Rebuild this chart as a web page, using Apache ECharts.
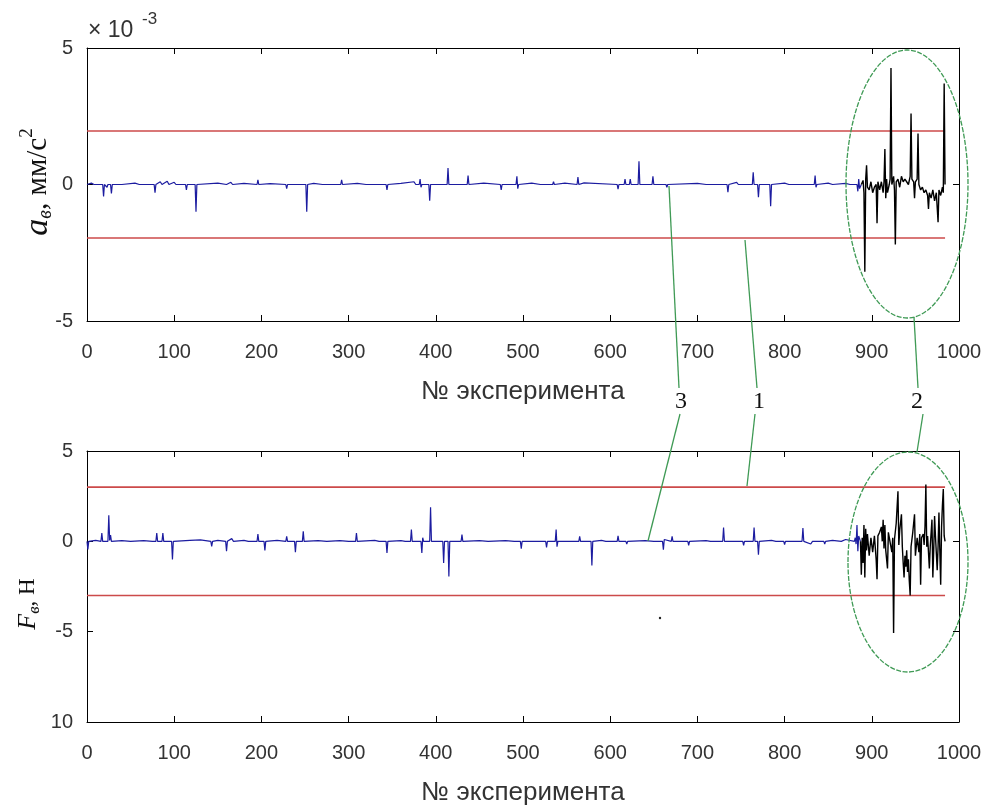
<!DOCTYPE html>
<html><head><meta charset="utf-8">
<script src="https://cdn.jsdelivr.net/npm/echarts@6/dist/echarts.min.js"></script>
<style>html,body{margin:0;padding:0;background:#fff}#c{width:994px;height:810px}</style>
</head><body><div id="c"></div>
<script>
// ---- data (top panel values in units of 1e-3 mm/s^2, bottom in N) ----
const xMin = 0, xMax = 1000, xStep = 100;
const topYTicks = [-5, 0, 5];
const bottomYTicks = [-10, -5, 0, 5];
const thresholdX = [0, 984];
const topLimits = [1.96, -1.96];
const bottomLimits = [3, -3];

const topBlue = [[0,0],[5,0.05],[8,0],[18,0],[19,-0.44],[20,0],[23,-0.1],[24,0],[27,0],[28,-0.33],[29,0],[40,0],[55,0.05],[60,0],[77,0],[78,-0.3],[79,0],[84,0.1],[86,0],[92,0.12],[94,0],[100,0.08],[102,0],[113,0],[114,-0.2],[115,0],[124,0],[125,-1.0],[126,0],[150,0.05],[160,0],[165,0.08],[167,0],[180,0.04],[195,0],[196,0.17],[197,0],[210,0.03],[228,0],[229,-0.15],[230,0],[251,0],[252,-1.0],[253,0],[260,0.04],[270,0],[291,0],[292,0.17],[293,0],[310,0.04],[320,0],[343,0],[344,-0.2],[345,0],[360,0.04],[375,0.1],[377,0],[381,0],[382,0.2],[383,-0.1],[384,0],[392,0],[393,-0.59],[394,0],[413,0],[414,0.6],[415,0],[436,0],[437,0.33],[438,0],[455,0.05],[474,0],[475,-0.2],[476,0],[492,0],[493,0.3],[494,-0.15],[495,0],[510,0.05],[520,0],[534,0],[535,0.1],[536,0],[548,0.05],[550,0],[562,0],[563,0.27],[564,0],[570,0.06],[572,0],[608,0],[609,-0.17],[610,0],[616,0],[617,0.2],[618,0],[622,0],[623,0.2],[624,0],[632,0],[633,0.85],[634,0],[648,0],[649,0.3],[650,0],[664,0],[665,-0.1],[666,0],[700,0.04],[710,0],[734,0],[735,-0.28],[736,0],[745,0.08],[747,0],[763,0],[764,0.45],[765,0],[769,0],[770,-0.47],[771,0],[783,0],[784,-0.8],[785,0],[800,0.05],[805,0],[834,0],[835,0.33],[836,-0.1],[837,0],[850,0.05],[855,0],[870,0.04],[875,0],[883,0],[884,-0.25],[885,0.2],[886,-0.15],[888,0]];
const topBlack = [[888,0],[890,0.15],[891,-0.3],[892,-3.2],[893,0.2],[894,0.7],[895,-0.1],[897,-0.2],[899,0.1],[901,-0.3],[903,-0.1],[905,0],[906,-1.42],[907,0.1],[909,-0.2],[911,0.1],[913,-0.3],[914,0.1],[915,1.3],[916,-0.5],[917,0.2],[918,-0.3],[920,0],[921,0.2],[922,4.27],[923,0],[925,0.3],[926,-0.2],[927,-2.2],[928,0.1],[930,0.2],[932,-0.1],[934,0.3],[936,0.1],[938,0.2],[940,0.15],[942,0],[944,0.3],[945,2.6],[946,0.2],[948,0.1],[949,-0.5],[950,0.1],[952,0.2],[953,1.87],[954,0],[956,-0.2],[958,-0.1],[960,-0.3],[962,-0.2],[964,-0.4],[965,-0.9],[966,-0.3],[968,-0.5],[970,-0.2],[972,-0.6],[974,-0.3],[976,-1.38],[977,-0.2],[979,-0.4],[981,-0.1],[982,-0.3],[983,3.7],[984,0]];

const bottomBlue = [[0,0],[1,-0.45],[2,0],[10,0.05],[16,0],[17,0.46],[18,0],[20,0.1],[24,0],[25,1.44],[26,0.05],[27,0.35],[28,0],[40,0.04],[50,0],[65,0.04],[75,0],[79,0],[80,0.46],[81,0],[86,0],[87,0.46],[88,0],[97,0],[98,-1.0],[99,0],[118,0.05],[120,0],[130,0.08],[132,0],[142,0],[143,-0.28],[144,0],[150,0.05],[152,0],[159,0],[160,-0.55],[161,0],[166,0.15],[168,0],[180,0.05],[185,0],[195,0],[196,0.4],[197,0],[203,0],[204,-0.5],[205,0],[218,0.05],[220,0],[228,0],[229,0.28],[230,0],[238,0],[239,-0.6],[240,0],[247,0],[248,0.55],[249,0],[265,0.04],[275,0],[290,0.04],[300,0],[308,0],[309,0.46],[310,0],[330,0.05],[335,0],[343,0],[344,-0.65],[345,0],[360,0.04],[365,0],[371,0],[372,0.65],[373,0],[383,0],[384,-0.65],[385,0.2],[386,0],[393,0],[394,1.88],[395,0],[408,0],[409,-1.2],[410,0],[414,0],[415,-1.94],[416,0],[429,0],[430,0.37],[431,0],[450,0.04],[460,0],[480,0.04],[490,0],[497,0],[498,-0.4],[499,0],[526,0],[527,-0.33],[528,0],[537,0],[538,0.65],[539,-0.3],[540,0],[564,0],[565,0.28],[566,0],[578,0],[579,-1.33],[580,0],[590,0.05],[595,0],[608,0],[609,0.3],[610,0],[618,0],[619,-0.15],[620,0],[640,0.04],[650,0],[660,0],[661,-0.46],[662,0.1],[663,0],[670,0],[671,0.28],[672,0],[689,0],[690,-0.22],[691,0],[710,0.04],[715,0],[729,0],[730,0.77],[731,0],[752,0],[753,-0.22],[754,0],[764,0],[765,0.77],[766,0],[769,0],[770,-0.74],[771,0],[785,0.05],[790,0],[799,0],[800,-0.18],[801,0],[820,0],[821,0.74],[822,0],[830,-0.15],[832,0],[845,0],[846,-0.15],[847,0],[855,0.05],[857,0],[865,0],[866,-0.1],[867,0],[870,0.1],[872,0],[880,0],[881,0.2],[882,-0.15],[883,0.9],[884,-0.55],[885,0.3],[887,0]];
const bottomBlack = [[887,0],[888,-1.85],[889,0.2],[890,-1.2],[891,0.9],[892,-2.0],[893,0.7],[894,-0.5],[895,0.4],[897,-0.8],[899,0.2],[901,-0.6],[903,0.3],[905,-1.0],[906,-2.1],[907,0.3],[909,0.5],[911,0.8],[912,0],[913,1.2],[914,-0.4],[915,0.9],[916,-0.5],[918,-1.5],[919,0.5],[921,0.4],[923,-0.6],[924,0.2],[925,-5.07],[926,0.1],[928,1.0],[930,2.77],[931,-0.2],[932,0.6],[934,1.5],[935,-0.3],[936,-1.2],[937,-2.0],[938,-0.8],[939,-1.4],[940,-0.5],[941,-1.7],[942,-1.0],[943,-2.2],[944,-3.0],[945,-0.3],[947,0.5],[949,1.5],[950,-0.8],[952,0.2],[954,-0.6],[955,0.4],[956,-2.4],[957,0.2],[959,0.4],[960,-0.2],[961,0.8],[962,3.14],[963,-0.3],[964,0.3],[966,-1.5],[967,-0.3],[969,1.2],[970,-2.0],[971,-0.5],[972,1.4],[973,0.3],[975,-1.6],[976,-0.3],[977,1.6],[978,-0.5],[979,-2.4],[980,0.8],[981,2.0],[982,2.9],[983,0.3],[984,0]];

const xTitle = '№ эксперимента';
const calloutLabels = ['3', '1', '2'];

// ---- chart ----
const chart = echarts.init(document.getElementById('c'), null, {renderer: 'canvas'});
const SANS = "'Liberation Sans', Arial, sans-serif";
const SERIF = "'Liberation Serif', 'Times New Roman', serif";
const GREEN = '#3f9a55';
const labelStyle = {color: '#333', fontFamily: SANS, fontSize: 20};

function xAxes(gi) {
  const base = {type: 'value', gridIndex: gi, min: xMin, max: xMax, interval: xStep,
    axisLine: {show: true, onZero: false, lineStyle: {color: '#000', width: 1}},
    axisTick: {show: true, inside: true, length: 6, lineStyle: {color: '#000'}},
    splitLine: {show: false}};
  return [
    Object.assign({}, base, {position: 'bottom', axisLabel: Object.assign({margin: 21, formatter: v => String(v)}, labelStyle),
      name: xTitle, nameLocation: 'middle', nameGap: 58,
      nameTextStyle: {color: '#333', fontFamily: SANS, fontSize: 26}}),
    Object.assign({}, base, {position: 'top', axisLabel: {show: false}})
  ];
}
function yAxes(gi, ticks, fmt) {
  const base = {type: 'value', gridIndex: gi, min: ticks[0], max: ticks[ticks.length - 1], interval: 5,
    axisLine: {show: true, onZero: false, lineStyle: {color: '#000', width: 1}},
    axisTick: {show: true, inside: true, length: 6, lineStyle: {color: '#000'}},
    splitLine: {show: false}};
  return [
    Object.assign({}, base, {position: 'left', axisLabel: Object.assign({margin: 14, formatter: fmt}, labelStyle)}),
    Object.assign({}, base, {position: 'right', axisLabel: {show: false}})
  ];
}

const grids = [
  {left: 87, top: 48, width: 872, height: 273},
  {left: 87, top: 451, width: 872, height: 271}
];
const xAxis = [...xAxes(0), ...xAxes(1)];
const yAxis = [...yAxes(0, topYTicks, v => String(v)), ...yAxes(1, bottomYTicks, v => v === -10 ? '10' : String(v))];

function lineSeries(xi, yi, data, color, width) {
  return {type: 'line', xAxisIndex: xi, yAxisIndex: yi, data: data, showSymbol: false, symbol: 'none',
    lineStyle: {color: color, width: width}, silent: true, animation: false, z: 3};
}
function limitSeries(xi, yi, level) {
  return lineSeries(xi, yi, thresholdX.map(x => [x, level]), '#cc4a4a', 1.6);
}
const series = [
  limitSeries(0, 0, topLimits[0]), limitSeries(0, 0, topLimits[1]),
  lineSeries(0, 0, topBlue, '#1c1ca0', 1.2),
  lineSeries(0, 0, topBlack, '#000', 1.4),
  limitSeries(2, 2, bottomLimits[0]), limitSeries(2, 2, bottomLimits[1]),
  lineSeries(2, 2, bottomBlue, '#1c1ca0', 1.2),
  lineSeries(2, 2, bottomBlack, '#000', 1.4)
];

// rotated y-axis titles built from pieces (subscripts / superscripts), centred on centerY
const mctx = document.createElement('canvas').getContext('2d');
function vlabel(parts, cx, centerY) {
  let x = 0; const children = [];
  parts.forEach(p => {
    const font = (p.italic ? 'italic ' : '') + p.size + 'px ' + SERIF;
    mctx.font = font;
    children.push({type: 'text', x: x, y: p.dy || 0,
      style: {text: p.t, font: font, fill: '#111', align: 'left', verticalAlign: 'middle',
              textAlign: 'left', textVerticalAlign: 'middle'}});
    x += mctx.measureText(p.t).width + (p.gap || 0);
  });
  return {type: 'group', x: cx, y: centerY + x / 2, rotation: Math.PI / 2, children: children};
}

const graphic = [
  vlabel([{t: 'a', italic: true, size: 34}, {t: 'в', italic: true, size: 20, dy: 8}, {t: ', мм/с', size: 29}, {t: '2', size: 19, dy: -11}], 38, 182),
  vlabel([{t: 'F', italic: true, size: 26}, {t: 'в', italic: true, size: 17, dy: 7}, {t: ', Н', size: 23}], 28, 604),
  {type: 'text', x: 88, y: 31, style: {text: '× 10', font: '23px ' + SANS, fill: '#333', align: 'left', verticalAlign: 'middle', textAlign: 'left', textVerticalAlign: 'middle'}},
  {type: 'text', x: 142, y: 19, style: {text: '-3', font: '17px ' + SANS, fill: '#333', align: 'left', verticalAlign: 'middle', textAlign: 'left', textVerticalAlign: 'middle'}},
  // callout ellipses
  {type: 'ellipse', shape: {cx: 907, cy: 184, rx: 61, ry: 134}, style: {fill: 'none', stroke: GREEN, lineWidth: 1.3, lineDash: [5, 1.5]}, z: 10},
  {type: 'ellipse', shape: {cx: 908, cy: 562, rx: 60, ry: 110}, style: {fill: 'none', stroke: GREEN, lineWidth: 1.3, lineDash: [5, 1.5]}, z: 10},
  // leader lines
  {type: 'line', shape: {x1: 669, y1: 186, x2: 679, y2: 388}, style: {stroke: GREEN, lineWidth: 1.3}, z: 10},
  {type: 'line', shape: {x1: 680, y1: 414, x2: 648, y2: 541}, style: {stroke: GREEN, lineWidth: 1.3}, z: 10},
  {type: 'line', shape: {x1: 745, y1: 240, x2: 757, y2: 388}, style: {stroke: GREEN, lineWidth: 1.3}, z: 10},
  {type: 'line', shape: {x1: 755, y1: 414, x2: 747, y2: 486}, style: {stroke: GREEN, lineWidth: 1.3}, z: 10},
  {type: 'line', shape: {x1: 914, y1: 317, x2: 918, y2: 388}, style: {stroke: GREEN, lineWidth: 1.3}, z: 10},
  {type: 'line', shape: {x1: 923, y1: 414, x2: 917, y2: 452}, style: {stroke: GREEN, lineWidth: 1.3}, z: 10},
  // callout numbers
  ...calloutLabels.map((t, i) => ({type: 'text', x: [681, 759, 917][i], y: 402,
    style: {text: t, font: '24px ' + SERIF, fill: '#111', align: 'center', verticalAlign: 'middle', textAlign: 'center', textVerticalAlign: 'middle'}, z: 11})),
  {type: 'circle', shape: {cx: 660, cy: 618, r: 1.2}, style: {fill: '#222'}}
];

chart.setOption({animation: false, backgroundColor: '#fff', grid: grids, xAxis: xAxis, yAxis: yAxis, series: series, graphic: graphic});
</script>
</body></html>
